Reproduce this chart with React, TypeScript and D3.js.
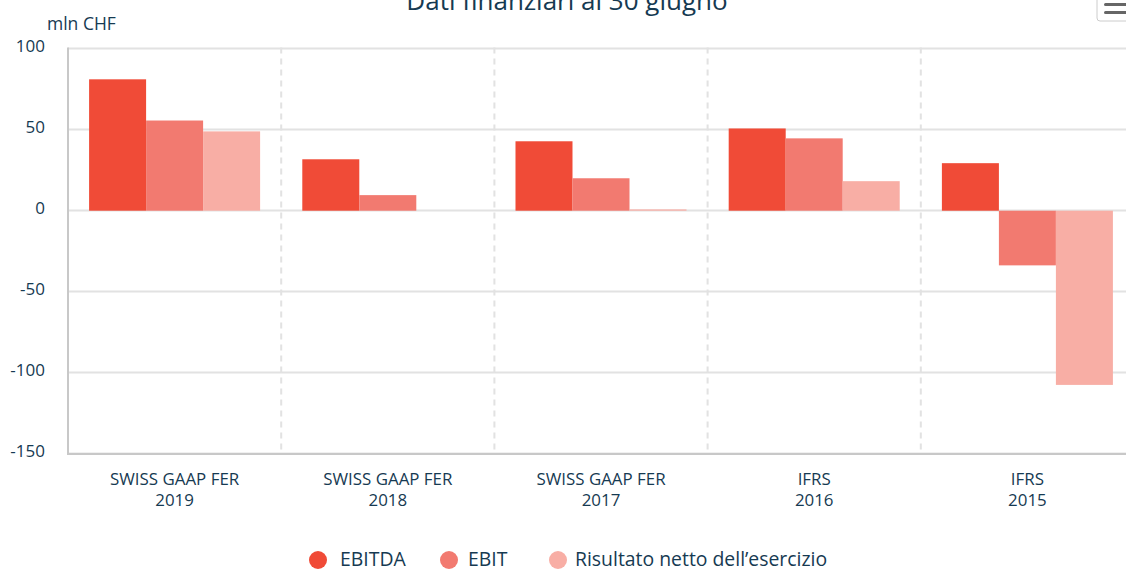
import React from "react";
import * as d3 from "d3";

const categories = ["SWISS GAAP FER|2019", "SWISS GAAP FER|2018", "SWISS GAAP FER|2017", "IFRS|2016", "IFRS|2015"];
const seriesNames = ["EBITDA", "EBIT", "Risultato netto dell\u2019esercizio"];
const ebitda = [81, 31.7, 42.8, 50.7, 29.3];
const ebit = [55.6, 9.6, 20, 44.6, -33.7];
const netResult = [48.9, 0, 0.8, 18.2, -107.4];
const yTicks = [-150, -100, -50, 0, 50, 100];
const colors = ["#f04b37", "#f27a70", "#f8aea5"];

const W = 1126, H = 569;
const left = 68, right = 1134, top = 48.5, bottom = 454;
const font = "'Open Sans', Lato, sans-serif";
const textColor = "#163a52";

export default function App() {
  const series = [ebitda, ebit, netResult];
  const x = d3.scaleBand<number>().domain(d3.range(categories.length)).range([left, right]).paddingInner(0).paddingOuter(0);
  const xi = d3.scaleBand<number>().domain([0, 1, 2]).range([0, x.bandwidth()]).paddingInner(0).paddingOuter(0.37);
  const y = d3.scaleLinear().domain([-150, 100]).range([bottom, top]);
  const legendItems = [
    { cx: 318, tx: 340 },
    { cx: 449, tx: 468 },
    { cx: 558, tx: 575 },
  ];
  return (
    <svg width={W} height={H} style={{ position: "absolute", left: 0, top: 0, display: "block" }} fontFamily={font}>
      <rect x={0} y={0} width={W} height={H} fill="#fff" />
      <text x={567} y={10} textAnchor="middle" fontSize={26} fill={textColor}>Dati finanziari al 30 giugno</text>
      <rect x={1097} y={-6} width={40} height={27} rx={3} fill="#fff" stroke="#ccc" />
      <rect x={1104} y={3} width={25} height={3} rx={1.5} fill="#666" />
      <rect x={1104} y={11} width={25} height={3} rx={1.5} fill="#666" />
      <text x={47} y={30} fontSize={17.5} fill={textColor}>mln CHF</text>
      {yTicks.map((t) => (
        <g key={t}>
          <line x1={left} x2={right} y1={Math.round(y(t)) - 0.5} y2={Math.round(y(t)) - 0.5} stroke="#e2e2e2" strokeWidth={2} />
          <text x={45} y={y(t) + 3} textAnchor="end" fontSize={17} fill={textColor}>{t}</text>
        </g>
      ))}
      {d3.range(1, categories.length).map((i) => (
        <line key={i} x1={x(i)!} x2={x(i)!} y1={top - 1} y2={bottom} stroke="#e2e2e2" strokeWidth={2} strokeDasharray="6,5" />
      ))}
      {series.map((vals, s) =>
        vals.map((v, i) => {
          const bx = x(i)! + xi(s)!;
          const y0 = y(Math.max(0, v));
          const y1 = y(Math.min(0, v));
          return <rect key={s + "-" + i} x={bx} y={y0} width={xi.bandwidth()} height={Math.max(0, y1 - y0)} fill={colors[s]} />;
        })
      )}
      <line x1={left} x2={left} y1={top - 1} y2={bottom + 1} stroke="#c8c8c8" strokeWidth={2} />
      <line x1={left} x2={right} y1={bottom} y2={bottom} stroke="#c8c8c8" strokeWidth={2} />
      {categories.map((c, i) => {
        const [a, b] = c.split("|");
        const cx = x(i)! + x.bandwidth() / 2;
        return (
          <g key={c}>
            <text x={cx} y={485} textAnchor="middle" fontSize={16.9} fill={textColor}>{a}</text>
            <text x={cx} y={506} textAnchor="middle" fontSize={16.9} fill={textColor}>{b}</text>
          </g>
        );
      })}
      {seriesNames.map((n, s) => (
        <g key={n}>
          <circle cx={legendItems[s].cx} cy={560} r={9} fill={colors[s]} />
          <text x={legendItems[s].tx} y={566} fontSize={19.4} fill={textColor}>{n}</text>
        </g>
      ))}
    </svg>
  );
}
